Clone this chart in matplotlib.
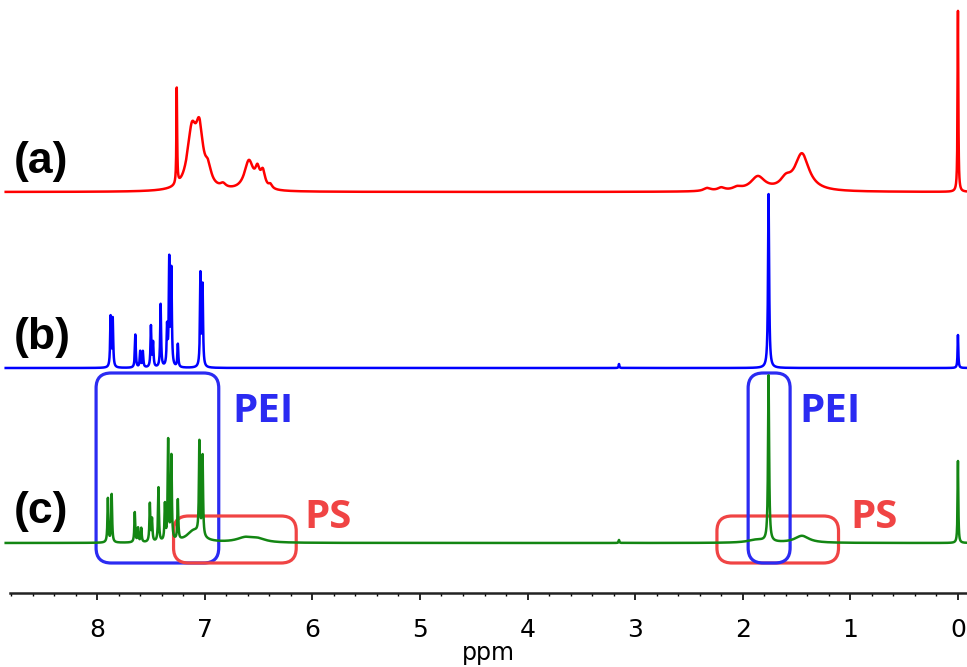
import numpy as np
import matplotlib
matplotlib.use("Agg")
import matplotlib.pyplot as plt
from matplotlib.patches import FancyBboxPatch

# Peak tables: position (ppm), height, half width (ppm).
# (a) polystyrene
ppm_a = [7.26, 7.12, 7.05, 6.97, 6.83, 6.59, 6.51, 6.46, 6.39,
         2.33, 2.20, 2.05, 1.86, 1.60, 1.45, 0.00]
height_a = [96, 56, 52, 16, 4, 29, 16, 16, 4,
            3, 3, 3, 14, 9, 37, 181]
width_a = [0.004, 0.05, 0.04, 0.035, 0.03, 0.05, 0.025, 0.025, 0.02,
           0.04, 0.04, 0.05, 0.08, 0.06, 0.08, 0.004]

# (b) PEI
ppm_b = [7.875, 7.855, 7.645, 7.60, 7.575, 7.50, 7.48, 7.41, 7.35,
         7.33, 7.31, 7.25, 7.04, 7.02, 3.15, 1.76, 0.00]
height_b = [50, 48, 33, 16, 16, 41, 24, 63, 38,
            105, 95, 23, 92, 80, 4, 174, 33]
width_b = [0.005] * 14 + [0.004, 0.006, 0.004]

# (c) PEI/PS blend
ppm_c = [7.90, 7.865, 7.65, 7.62, 7.59, 7.51, 7.49, 7.43, 7.37,
         7.34, 7.31, 7.25, 7.05, 7.02, 7.10, 6.62, 6.50,
         3.15, 1.87, 1.76, 1.45, 0.00]
height_c = [44, 48, 30, 14, 14, 38, 22, 54, 36,
            100, 84, 40, 92, 80, 12, 5, 3,
            3, 3, 166, 7, 82]
width_c = [0.005] * 12 + [0.005, 0.005, 0.08, 0.1, 0.08,
                          0.004, 0.1, 0.006, 0.08, 0.004]


def spectrum(x, pos, amp, hw):
    y = np.zeros_like(x)
    for p, a, w in zip(pos, amp, hw):
        y += a / (1.0 + ((x - p) / w) ** 2)
    return y


x = np.linspace(-0.1, 8.85, 30000)

fig = plt.figure(figsize=(9.67, 6.67), dpi=100)
ax = fig.add_axes([10 / 967, 74 / 667, 957 / 967, 593 / 667])
ax.set_xlim(8.81, -0.084)
ax.set_ylim(0, 593)

traces = [
    (ppm_a, height_a, width_a, 401, "#ff0000", "(a)"),
    (ppm_b, height_b, width_b, 225, "#0000ff", "(b)"),
    (ppm_c, height_c, width_c, 50, "#138613", "(c)"),
]
for pos, amp, hw, base, color, tag in traces:
    ax.plot(x, base + spectrum(x, pos, amp, hw), color=color, lw=1.8,
            clip_on=False)
    ax.text(8.775, base + 31, tag, fontsize=32, fontweight="bold",
            family="Liberation Sans", ha="left", va="center")

# Highlight boxes (ppm range, y range) around the assigned signals
box_blue = "#2b2bf2"
box_red = "#f04444"
boxes = [
    (8.01, 6.87, 30, 220, box_blue),
    (7.29, 6.15, 30, 77, box_red),
    (2.24, 1.11, 30, 77, box_red),
    (1.95, 1.56, 30, 220, box_blue),
]
for x0, x1, y0, y1, color in boxes:
    ax.add_patch(FancyBboxPatch(
        (x1, y0), x0 - x1, y1 - y0,
        boxstyle="round,pad=0,rounding_size=0.14",
        mutation_aspect=107.6, fill=False, ec=color, lw=2.3))

labels = [
    (6.74, 182, "PEI", box_blue),
    (6.07, 76, "PS", box_red),
    (1.47, 181, "PEI", box_blue),
    (1.00, 76, "PS", box_red),
]
for xt, yt, txt, color in labels:
    ax.text(xt, yt, txt, color=color, fontsize=29, fontweight="bold",
            family="Open Sans", ha="left", va="center")

for side in ("top", "left", "right"):
    ax.spines[side].set_visible(False)
ax.spines["bottom"].set_linewidth(1.8)
ax.spines["bottom"].set_color("#222222")
ax.set_yticks([])
ax.set_xticks(np.arange(0, 9, 1))
ax.set_xticks(np.arange(0, 8.81, 0.2), minor=True)
ax.tick_params(axis="x", which="major", direction="out", length=5,
               width=1.2, pad=13, labelsize=18)
ax.tick_params(axis="x", which="minor", direction="out", length=2.5,
               width=1.0)
ax.set_xlabel("ppm", fontsize=17, labelpad=-1)

fig.savefig("out.png", dpi=100)
